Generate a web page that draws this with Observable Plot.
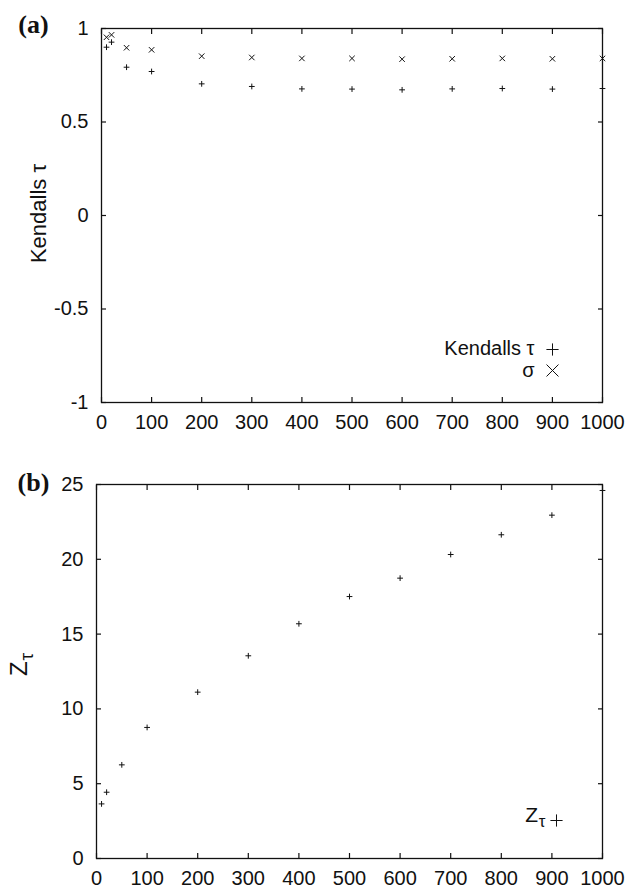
<!DOCTYPE html>
<html>
<head>
<meta charset="utf-8">
<script src="https://cdn.jsdelivr.net/npm/d3@7"></script>
<script src="https://cdn.jsdelivr.net/npm/@observablehq/plot@0.6"></script>
<style>
  html, body { margin: 0; padding: 0; background: #fff; }
  #chart svg { display: block; }
</style>
</head>
<body>
<div id="chart"></div>
<script>
// ---- data ----
const sampleSize = [10, 20, 50, 100, 200, 300, 400, 500, 600, 700, 800, 900, 1000];
const kendallTau = [0.900, 0.927, 0.793, 0.770, 0.704, 0.690, 0.677, 0.676, 0.672, 0.677, 0.679, 0.676, 0.679];
const sigmaVals  = [0.953, 0.966, 0.897, 0.886, 0.852, 0.845, 0.840, 0.840, 0.836, 0.838, 0.840, 0.838, 0.840];
const zTau       = [3.65, 4.43, 6.26, 8.76, 11.12, 13.55, 15.69, 17.51, 18.74, 20.32, 21.64, 22.95, 24.6];
const xTicks  = [0, 100, 200, 300, 400, 500, 600, 700, 800, 900, 1000];
const yTicksA = [-1, -0.5, 0, 0.5, 1];
const yTicksB = [0, 5, 10, 15, 20, 25];
const labelA = "(a)", labelB = "(b)";
const yTitleA = "Kendalls τ", yTitleB = "Zτ";
const legendA = ["Kendalls τ", "σ"], legendB = "Zτ";

const rowsA = sampleSize.map((n, i) => ({n, tau: kendallTau[i], sigma: sigmaVals[i]}));
const rowsB = sampleSize.map((n, i) => ({n, z: zTau[i]}));

const ink = "#111";
const fmt = d => String(d);
const tickFont = 20;
const baseStyle = {fontFamily: "'Liberation Sans', Arial, Helvetica, sans-serif", fontSize: tickFont + "px", color: ink, background: "#fff", overflow: "visible"};

// inward ticks on all four sides: outward ticks shifted back inside the frame
function frameAxes(yTicks) {
  const t = 5;
  return [
    Plot.axisX(xTicks, {anchor: "bottom", tickSize: t, dy: -t, fill: "none", label: null, stroke: ink, strokeWidth: 1.2}),
    Plot.axisX(xTicks, {anchor: "top", tickSize: t, dy: t, fill: "none", label: null, stroke: ink, strokeWidth: 1.2}),
    Plot.axisY(yTicks, {anchor: "left", tickSize: t, dx: t, fill: "none", label: null, stroke: ink, strokeWidth: 1.2}),
    Plot.axisY(yTicks, {anchor: "right", tickSize: t, dx: -t, fill: "none", label: null, stroke: ink, strokeWidth: 1.2}),
    Plot.axisX(xTicks, {anchor: "bottom", tickSize: 0, tickPadding: 12, label: null, tickFormat: fmt, fill: ink, fontSize: tickFont}),
    Plot.axisY(yTicks, {anchor: "left", tickSize: 0, tickPadding: 13, label: null, tickFormat: fmt, fill: ink, fontSize: tickFont}),
    Plot.frame({stroke: ink, strokeWidth: 1.3})
  ];
}

const serif = "'Liberation Serif', 'Times New Roman', serif";

const plotA = Plot.plot({
  width: 629, height: 445,
  marginTop: 28, marginBottom: 43, marginLeft: 101, marginRight: 27,
  style: baseStyle,
  x: {domain: [0, 1000]},
  y: {domain: [-1, 1]},
  marks: [
    ...frameAxes(yTicksA),
    Plot.dot(rowsA, {x: "n", y: "tau", symbol: "plus", r: 2, stroke: ink, strokeWidth: 1}),
    Plot.dot(rowsA, {x: "n", y: "sigma", symbol: "times", r: 2.6, stroke: ink, strokeWidth: 1}),
    Plot.text([labelA], {frameAnchor: "top-left", dx: -68, dy: -4, textAnchor: "middle", lineAnchor: "middle",
      fontFamily: serif, fontWeight: "bold", fontSize: 26, fill: ink}),
    Plot.text([yTitleA], {frameAnchor: "left", dx: -63, dy: -2, rotate: -90, textAnchor: "middle", lineAnchor: "middle", fontSize: 22, fill: ink}),
    Plot.text([legendA[0]], {frameAnchor: "bottom-right", dx: -68, dy: -54, textAnchor: "end", lineAnchor: "middle", fontSize: 20, fill: ink}),
    Plot.text([legendA[1]], {frameAnchor: "bottom-right", dx: -68, dy: -32, textAnchor: "end", lineAnchor: "middle", fontSize: 20, fill: ink}),
    Plot.dot([0], {frameAnchor: "bottom-right", dx: -50, dy: -53, symbol: "plus", r: 4, stroke: ink, strokeWidth: 1}),
    Plot.dot([0], {frameAnchor: "bottom-right", dx: -50, dy: -32, symbol: "times", r: 5.5, stroke: ink, strokeWidth: 1})
  ]
});

const plotB = Plot.plot({
  width: 629, height: 446,
  marginTop: 39, marginBottom: 33, marginLeft: 96, marginRight: 27,
  style: baseStyle,
  x: {domain: [0, 1000]},
  y: {domain: [0, 25]},
  marks: [
    ...frameAxes(yTicksB),
    Plot.dot(rowsB, {x: "n", y: "z", symbol: "plus", r: 2, stroke: ink, strokeWidth: 1}),
    Plot.text([labelB], {frameAnchor: "top-left", dx: -63, dy: -2, textAnchor: "middle", lineAnchor: "middle",
      fontFamily: serif, fontWeight: "bold", fontSize: 26, fill: ink}),
    Plot.text([yTitleB], {frameAnchor: "left", dx: -77, dy: -7, rotate: -90, textAnchor: "middle", lineAnchor: "middle", fontSize: 24, fill: ink}),
    Plot.text([legendB], {frameAnchor: "bottom-right", dx: -57, dy: -43, textAnchor: "end", lineAnchor: "middle", fontSize: 21, fill: ink}),
    Plot.dot([0], {frameAnchor: "bottom-right", dx: -46, dy: -38, symbol: "plus", r: 4, stroke: ink, strokeWidth: 1})
  ]
});

// subscript τ in "Zτ"
function subscriptify(svg, whole, base, sub) {
  svg.querySelectorAll("text").forEach(t => {
    if (t.textContent === whole && t.children.length === 0) {
      t.textContent = base;
      const ts = document.createElementNS("http://www.w3.org/2000/svg", "tspan");
      ts.setAttribute("dy", "0.3em");
      ts.setAttribute("dx", "0.05em");
      ts.setAttribute("font-size", "0.8em");
      ts.textContent = sub;
      t.appendChild(ts);
    }
  });
}
subscriptify(plotB, "Zτ", "Z", "τ");

const host = document.getElementById("chart");
host.appendChild(plotA);
host.appendChild(plotB);
</script>
</body>
</html>
